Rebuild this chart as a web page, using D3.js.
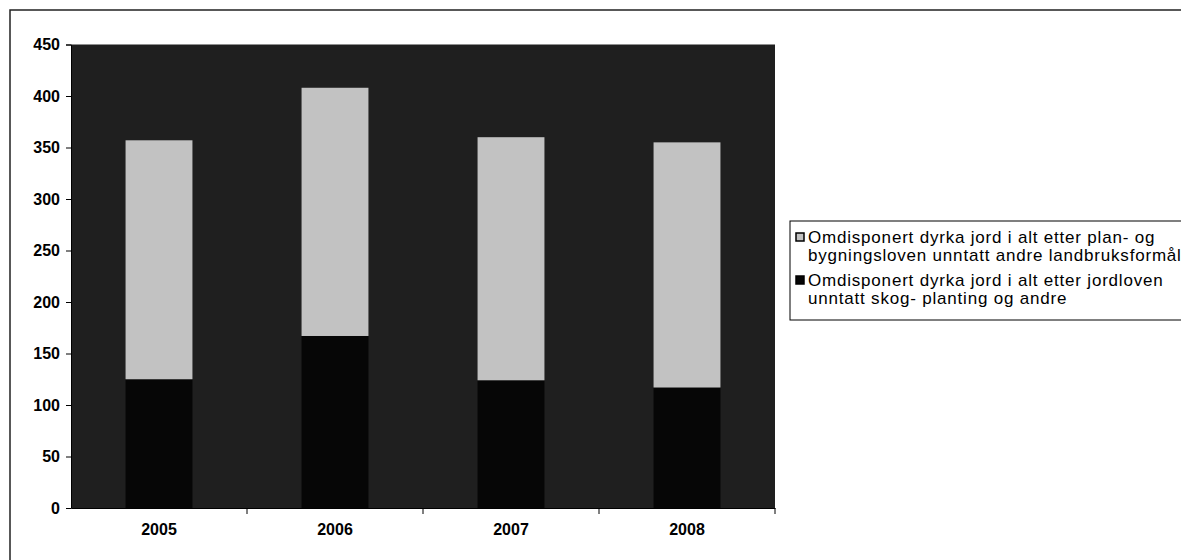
<!DOCTYPE html>
<html><head><meta charset="utf-8">
<script src="https://cdn.jsdelivr.net/npm/d3@7"></script>
<style>body{margin:0;background:#fff}svg{display:block}text{font-family:"Liberation Sans",Arial,sans-serif}</style>
</head><body>
<svg id="c" width="1181" height="560"></svg>
<script>
const categories = ["2005","2006","2007","2008"];
const jordloven = [125,167,124,117];
const planBygning = [232,241,236,238];
const yTicks = [0,50,100,150,200,250,300,350,400,450];
const legendLabels = [
  ["Omdisponert dyrka jord i alt etter plan- og","bygningsloven unntatt andre landbruksformål"],
  ["Omdisponert dyrka jord i alt etter jordloven","unntatt skog- planting og andre"]
];

const svg = d3.select("#c");
const m = {l:71, r:775, t:44.5, b:508};
const x = d3.scaleBand().domain(categories).range([m.l,m.r]).paddingInner(0.62).paddingOuter(0.31);
const xb = d3.scaleBand().domain(categories).range([m.l,m.r]);
const y = d3.scaleLinear().domain([0,450]).range([m.b,m.t]);

// outer frame
svg.append("path").attr("d","M10,560V10H1181").attr("fill","none").attr("stroke","#222").attr("stroke-width",1.5);

// plot background
svg.append("rect").attr("x",m.l).attr("y",m.t).attr("width",m.r-m.l).attr("height",m.b-m.t).attr("fill","#1f1f1f");

const rows = categories.map((c,i)=>({c, a:jordloven[i], b:planBygning[i]}));
const g = svg.append("g");
g.selectAll("rect.a").data(rows).join("rect").attr("class","a")
  .attr("x",d=>x(d.c)).attr("width",x.bandwidth())
  .attr("y",d=>y(d.a)).attr("height",d=>y(0)-y(d.a)).attr("fill","#060606");
g.selectAll("rect.b").data(rows).join("rect").attr("class","b")
  .attr("x",d=>x(d.c)).attr("width",x.bandwidth())
  .attr("y",d=>y(d.a+d.b)).attr("height",d=>y(d.a)-y(d.a+d.b)).attr("fill","#c2c2c2");

// y axis
const ya = svg.append("g").attr("transform",`translate(${m.l},0)`)
  .call(d3.axisLeft(y).tickValues(yTicks).tickSize(5).tickPadding(6));
ya.selectAll("text").attr("font-size",16).attr("font-weight","bold").attr("fill","#000");
ya.selectAll("line,path").attr("stroke","#000");

// x axis
const xa = svg.append("g").attr("transform",`translate(0,${m.b})`)
  .call(d3.axisBottom(xb).tickSize(0).tickPadding(16));
xa.selectAll("text").attr("font-size",16).attr("font-weight","bold").attr("fill","#000");
xa.select("path").attr("stroke","#000");
xa.selectAll(".sep").data(categories).join("line").attr("class","sep")
  .attr("x1",d=>xb(d)+xb.bandwidth()).attr("x2",d=>xb(d)+xb.bandwidth())
  .attr("y1",0).attr("y2",6).attr("stroke","#000");

// legend
const lg = svg.append("g");
lg.append("rect").attr("x",790).attr("y",221).attr("width",420).attr("height",99)
  .attr("fill","#fff").attr("stroke","#000").attr("stroke-width",1);
const fills = ["#c2c2c2","#060606"];
legendLabels.forEach((lines,i)=>{
  const y0 = 243 + i*43;
  lg.append("rect").attr("x",796).attr("y",y0-10).attr("width",8).attr("height",8)
    .attr("fill",fills[i]).attr("stroke","#000").attr("stroke-width",1.5);
  lines.forEach((t,j)=>{
    lg.append("text").attr("x",808).attr("y",y0+j*18).attr("font-size",17)
      .attr("letter-spacing",0.8).attr("fill","#000").text(t);
  });
});
</script>
</body></html>
